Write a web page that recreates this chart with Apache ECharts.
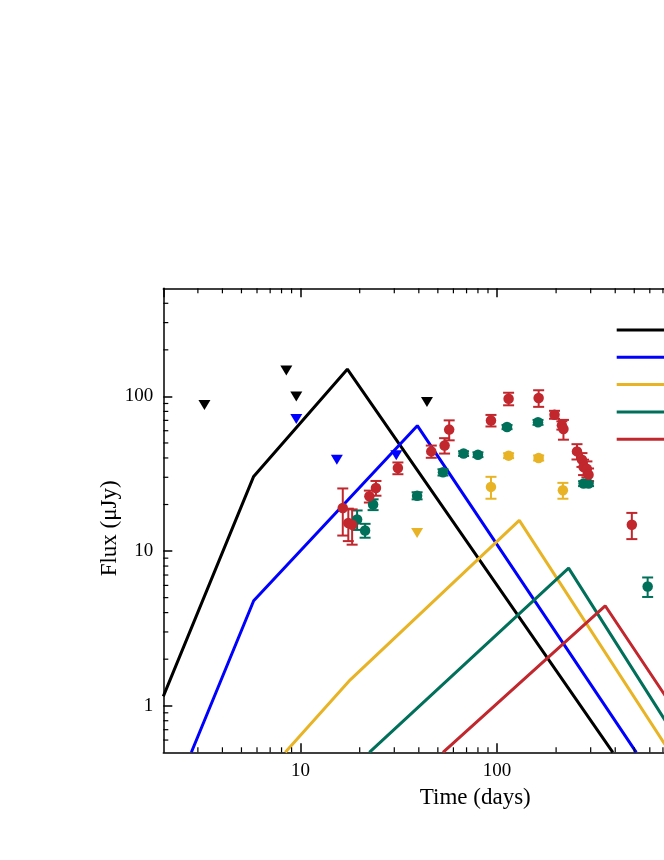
<!DOCTYPE html>
<html><head><meta charset="utf-8">
<script src="https://cdn.jsdelivr.net/npm/echarts@6/dist/echarts.min.js"></script>
<style>html,body{margin:0;padding:0;background:#fff;}#c{width:664px;height:860px;}</style>
</head><body><div id="c"></div>
<script>
// ---- Model curves (time in days, flux in uJy) ----
const blackModelT = [2, 5.77, 17.3, 389];
const blackModelF = [1.15, 30.4, 150, 0.5];
const blueModelT = [2.78, 5.77, 39.3, 512];
const blueModelF = [0.5, 4.77, 64.7, 0.5];
const yellowModelT = [8.36, 17.9, 129.9, 760];
const yellowModelF = [0.5, 1.47, 15.8, 0.5];
const greenModelT = [22.4, 231.6, 910];
const greenModelF = [0.5, 7.76, 0.5];
const redModelT = [53.1, 355.6, 1120];
const redModelF = [0.5, 4.43, 0.5];

// ---- Detections: time, flux, error ----
const redT = [16.4, 17.5, 18.3, 22.4, 24.2, 31.3, 46.3, 54.1, 57.1, 93.2, 114.6, 163, 196.3, 214, 218, 255.5, 270.8, 276, 287, 292.6, 486];
const redF = [19.0, 15.2, 14.8, 22.6, 25.6, 34.4, 44.1, 48.2, 61, 69.9, 96.6, 97.6, 76.2, 65, 61.5, 44.1, 39, 35, 34, 31.2, 14.8];
const redE = [6.4, 3.6, 3.8, 2.0, 2.8, 3.0, 4, 5.5, 9, 6, 9, 12, 4.5, 4, 9, 5, 4, 4, 4, 3, 2.85];

const greenT = [19.4, 21.3, 23.4, 39.2, 53.1, 67.6, 80, 112.5, 161.8, 276, 292.6, 585];
const greenF = [16.0, 13.6, 20.0, 22.8, 32.3, 42.7, 42, 63.4, 68, 27.3, 27.3, 5.9];
const greenE = [2.3, 1.4, 1.6, 1.2, 1.5, 1.5, 1.5, 2, 2.5, 1, 1, 0.85];

const yellowT = [93.2, 114.6, 163, 216.6];
const yellowF = [26, 41.4, 40, 24.7];
const yellowE = [4.2, 1.5, 1.5, 2.9];

// ---- Upper limits ----
const blackLimT = [3.24, 8.46, 9.51, 44];
const blackLimF = [88, 147, 100, 92];
const blueLimT = [9.51, 15.3, 30.7];
const blueLimF = [71.4, 39, 41.6];
const yellowLimT = [39.2];
const yellowLimF = [13.1];

// ---- Ticks ----
const xMinorTicks = [3,4,5,6,7,8,9,20,30,40,50,60,70,80,90,200,300,400,500,600,700,800,900];
const yMinorTicks = [0.6,0.7,0.8,0.9,2,3,4,5,6,7,8,9,20,30,40,50,60,70,80,90,200,300,400];

const C = {black:'#000000', blue:'#0000ff', yellow:'#e8b425', green:'#00705a', red:'#c1272d'};
const FONT = 'Liberation Serif';

const zip2 = (a,b) => a.map((v,i)=>[v,b[i]]);
const zip3 = (a,b,c) => a.map((v,i)=>[v,b[i],c[i]]);

function modelSeries(name, T, F, color){
  return {name, type:'line', data: zip2(T,F), color, symbol:'none', showSymbol:false,
    lineStyle:{color, width:3}, z:3, silent:true, animation:false};
}
function errSeries(T,F,E,color){
  return {type:'custom', data: zip3(T,F,E), encode:{x:0,y:1}, z:4, silent:true, animation:false,
    renderItem(params, api){
      const t = api.value(0), f = api.value(1), e = api.value(2);
      const top = api.coord([t, f+e]);
      const bot = api.coord([t, Math.max(f-e, 1e-6)]);
      const hw = 5.5;
      const st = {stroke: color, lineWidth: 2};
      return {type:'group', children:[
        {type:'line', shape:{x1:top[0], y1:top[1], x2:bot[0], y2:bot[1]}, style:st},
        {type:'line', shape:{x1:top[0]-hw, y1:top[1], x2:top[0]+hw, y2:top[1]}, style:st},
        {type:'line', shape:{x1:bot[0]-hw, y1:bot[1], x2:bot[0]+hw, y2:bot[1]}, style:st}
      ]};
    }};
}
function ptSeries(T,F,color){
  return {type:'scatter', data: zip2(T,F), symbol:'circle', symbolSize:10.5,
    itemStyle:{color, opacity:1}, z:5, silent:true, animation:false};
}
function limSeries(T,F,color){
  return {type:'scatter', data: zip2(T,F), symbol:'triangle', symbolRotate:180, symbolSize:[12,10],
    itemStyle:{color, opacity:1}, z:5, silent:true, animation:false};
}
const xMinorSeries = {type:'custom', data: xMinorTicks.map(v=>[v,1]), encode:{x:0,y:1}, z:6, silent:true, clip:false, animation:false,
  renderItem(params, api){
    const cs = params.coordSys; const x = api.coord([api.value(0), 1])[0];
    const yb = cs.y + cs.height, yt = cs.y; const st = {stroke:'#000', lineWidth:1.2};
    return {type:'group', children:[
      {type:'line', shape:{x1:x,y1:yb,x2:x,y2:yb-5}, style:st},
      {type:'line', shape:{x1:x,y1:yt,x2:x,y2:yt+5}, style:st}]};
  }};
const yMinorSeries = {type:'custom', data: yMinorTicks.map(v=>[10,v]), encode:{x:0,y:1}, z:6, silent:true, clip:false, animation:false,
  renderItem(params, api){
    const cs = params.coordSys; const y = api.coord([10, api.value(1)])[1];
    const xl = cs.x, xr = cs.x + cs.width; const st = {stroke:'#000', lineWidth:1.2};
    return {type:'group', children:[
      {type:'line', shape:{x1:xl,y1:y,x2:xl+5,y2:y}, style:st},
      {type:'line', shape:{x1:xr,y1:y,x2:xr-5,y2:y}, style:st}]};
  }};

const fmt = v => String(+(+v).toPrecision(6));
const axisLine = {show:true, onZero:false, lineStyle:{color:'#000', width:1.5}};
const axisTick = {show:true, inside:true, length:9, lineStyle:{color:'#000', width:1.5}};
const labelStyle = {color:'#000', fontFamily:FONT, fontSize:19, showMinLabel:false, showMaxLabel:false, formatter: fmt};

const chart = echarts.init(document.getElementById('c'), null, {renderer:'canvas'});
chart.setOption({
  backgroundColor:'#fff',
  animation:false,
  grid:{left:163.3, top:288.3, width:589.2, height:464, show:false, containLabel:false, outerBoundsMode:'none'},
  legend:{orient:'vertical', left:616.7, top:328.5, padding:0, itemWidth:60, itemHeight:3, itemGap:24.3, icon:'rect',
    selectedMode:false, formatter:()=>'', textStyle:{fontSize:2, lineHeight:2, padding:0},
    data:['m1','m2','m3','m4','m5']},
  xAxis:[
    {type:'log', logBase:10, min:2, max:2000, position:'bottom', axisLine, axisTick,
      axisLabel:Object.assign({margin:9}, labelStyle), splitLine:{show:false}, minorTick:{show:false}},
    {type:'log', logBase:10, min:2, max:2000, position:'top', axisLine, axisTick,
      axisLabel:{show:false}, splitLine:{show:false}}
  ],
  yAxis:[
    {type:'log', logBase:10, min:0.5, max:500, position:'left', axisLine, axisTick,
      axisLabel:Object.assign({margin:10}, labelStyle), splitLine:{show:false}},
    {type:'log', logBase:10, min:0.5, max:500, position:'right', axisLine, axisTick,
      axisLabel:{show:false}, splitLine:{show:false}}
  ],
  graphic:[
    {type:'text', x:475.3, y:798.3, style:{text:'Time (days)', fontFamily:FONT, fontSize:23, fill:'#000', align:'center', verticalAlign:'middle'}},
    {type:'text', x:109.5, y:528.3, rotation:Math.PI/2, style:{text:'Flux (\u03bcJy)', fontFamily:FONT, fontSize:23, fill:'#000', align:'center', verticalAlign:'middle'}}
  ],
  series:[
    xMinorSeries, yMinorSeries,
    modelSeries('m1', blackModelT, blackModelF, C.black),
    modelSeries('m2', blueModelT, blueModelF, C.blue),
    modelSeries('m3', yellowModelT, yellowModelF, C.yellow),
    modelSeries('m4', greenModelT, greenModelF, C.green),
    modelSeries('m5', redModelT, redModelF, C.red),
    errSeries(greenT, greenF, greenE, C.green), ptSeries(greenT, greenF, C.green),
    errSeries(yellowT, yellowF, yellowE, C.yellow), ptSeries(yellowT, yellowF, C.yellow),
    errSeries(redT, redF, redE, C.red), ptSeries(redT, redF, C.red),
    limSeries(blackLimT, blackLimF, C.black),
    limSeries(blueLimT, blueLimF, C.blue),
    limSeries(yellowLimT, yellowLimF, C.yellow)
  ]
});
</script></body></html>
